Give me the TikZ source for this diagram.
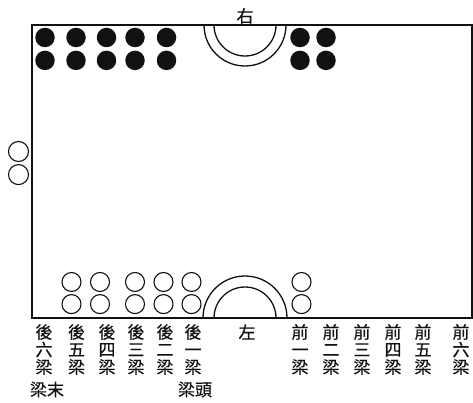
\documentclass[tikz,border=0pt]{standalone}
\usepackage{fontspec}
\newfontfamily\cjk[FakeBold=0.5]{Noto Sans CJK TC}
\usetikzlibrary{positioning}
\definecolor{InkBlack}{HTML}{111111}
\tikzset{
  hull/.style={draw=InkBlack, line width=1.3pt},
  blackdot/.style={circle, fill=InkBlack, minimum size=19.5pt, inner sep=0pt},
  whitedot/.style={circle, draw=InkBlack, line width=1.1pt, minimum size=19pt, inner sep=0pt},
  lbl/.style={font=\cjk\fontsize{17}{17.5}\selectfont, align=center, inner sep=0pt, text=InkBlack}
}
\begin{document}
\begin{tikzpicture}[x=1pt, y=-1pt, node distance=3pt]
\useasboundingbox (0,0) rectangle (473,403);
% deck outline
\draw[hull] (32,25) rectangle (472,318);
% right side hatch
\draw[hull] (204,25) arc[start angle=180, end angle=0, radius=41];
\draw[hull] (214,25) arc[start angle=180, end angle=0, radius=31];
% left side hatch
\draw[hull] (203,318) arc[start angle=180, end angle=360, radius=42];
\draw[hull] (214,318) arc[start angle=180, end angle=360, radius=31];
% right side, filled
\node[blackdot] (r6a) at (45,37.5) {};
\node[blackdot] (r5a) at (76,37.5) {};
\node[blackdot] (r4a) at (106.5,37.5) {};
\node[blackdot] (r3a) at (135,37.5) {};
\node[blackdot] (r2a) at (166.5,37.5) {};
\node[blackdot] (r1a) at (300,37.5) {};
\node[blackdot] (r0a) at (326,37.5) {};
\node[blackdot, below=of r6a] (r6b) {};
\node[blackdot, below=of r5a] (r5b) {};
\node[blackdot, below=of r4a] (r4b) {};
\node[blackdot, below=of r3a] (r3b) {};
\node[blackdot, below=of r2a] (r2b) {};
\node[blackdot, below=of r1a] (r1b) {};
\node[blackdot, below=of r0a] (r0b) {};
% left side, open
\node[whitedot] (l5a) at (71.5,282) {};
\node[whitedot] (l4a) at (100,282) {};
\node[whitedot] (l3a) at (135,282) {};
\node[whitedot] (l2a) at (163.5,282) {};
\node[whitedot] (l1a) at (191.5,282) {};
\node[whitedot] (l0a) at (301.5,282) {};
\node[whitedot, below=2pt of l5a] (l5b) {};
\node[whitedot, below=2pt of l4a] (l4b) {};
\node[whitedot, below=2pt of l3a] (l3b) {};
\node[whitedot, below=2pt of l2a] (l2b) {};
\node[whitedot, below=2pt of l1a] (l1b) {};
\node[whitedot, below=2pt of l0a] (l0b) {};
% stern
\node[whitedot, minimum size=20pt] (s1) at (18.5,151.5) {};
\node[whitedot, minimum size=20pt, below=2pt of s1] (s2) {};
% labels
\node[lbl] (right) at (245,16) {右};
\node[lbl] (left) at (247,332) {左};
\node[lbl] (back6) at (44,349.5) {後\\六\\梁};
\node[lbl] (back5) at (76.5,349.5) {後\\五\\梁};
\node[lbl] (back4) at (107,349.5) {後\\四\\梁};
\node[lbl] (back3) at (136,349.5) {後\\三\\梁};
\node[lbl] (back2) at (165,349.5) {後\\二\\梁};
\node[lbl] (back1) at (193,349.5) {後\\一\\梁};
\node[lbl] (front1) at (300,349.5) {前\\一\\梁};
\node[lbl] (front2) at (331,349.5) {前\\二\\梁};
\node[lbl] (front3) at (362,349.5) {前\\三\\梁};
\node[lbl] (front4) at (393,349.5) {前\\四\\梁};
\node[lbl] (front5) at (423,349.5) {前\\五\\梁};
\node[lbl] (front6) at (461,349.5) {前\\六\\梁};
\node[lbl] (tail) at (47,389.5) {梁末};
\node[lbl] (head) at (195,389.5) {梁頭};
\end{tikzpicture}
\end{document}
